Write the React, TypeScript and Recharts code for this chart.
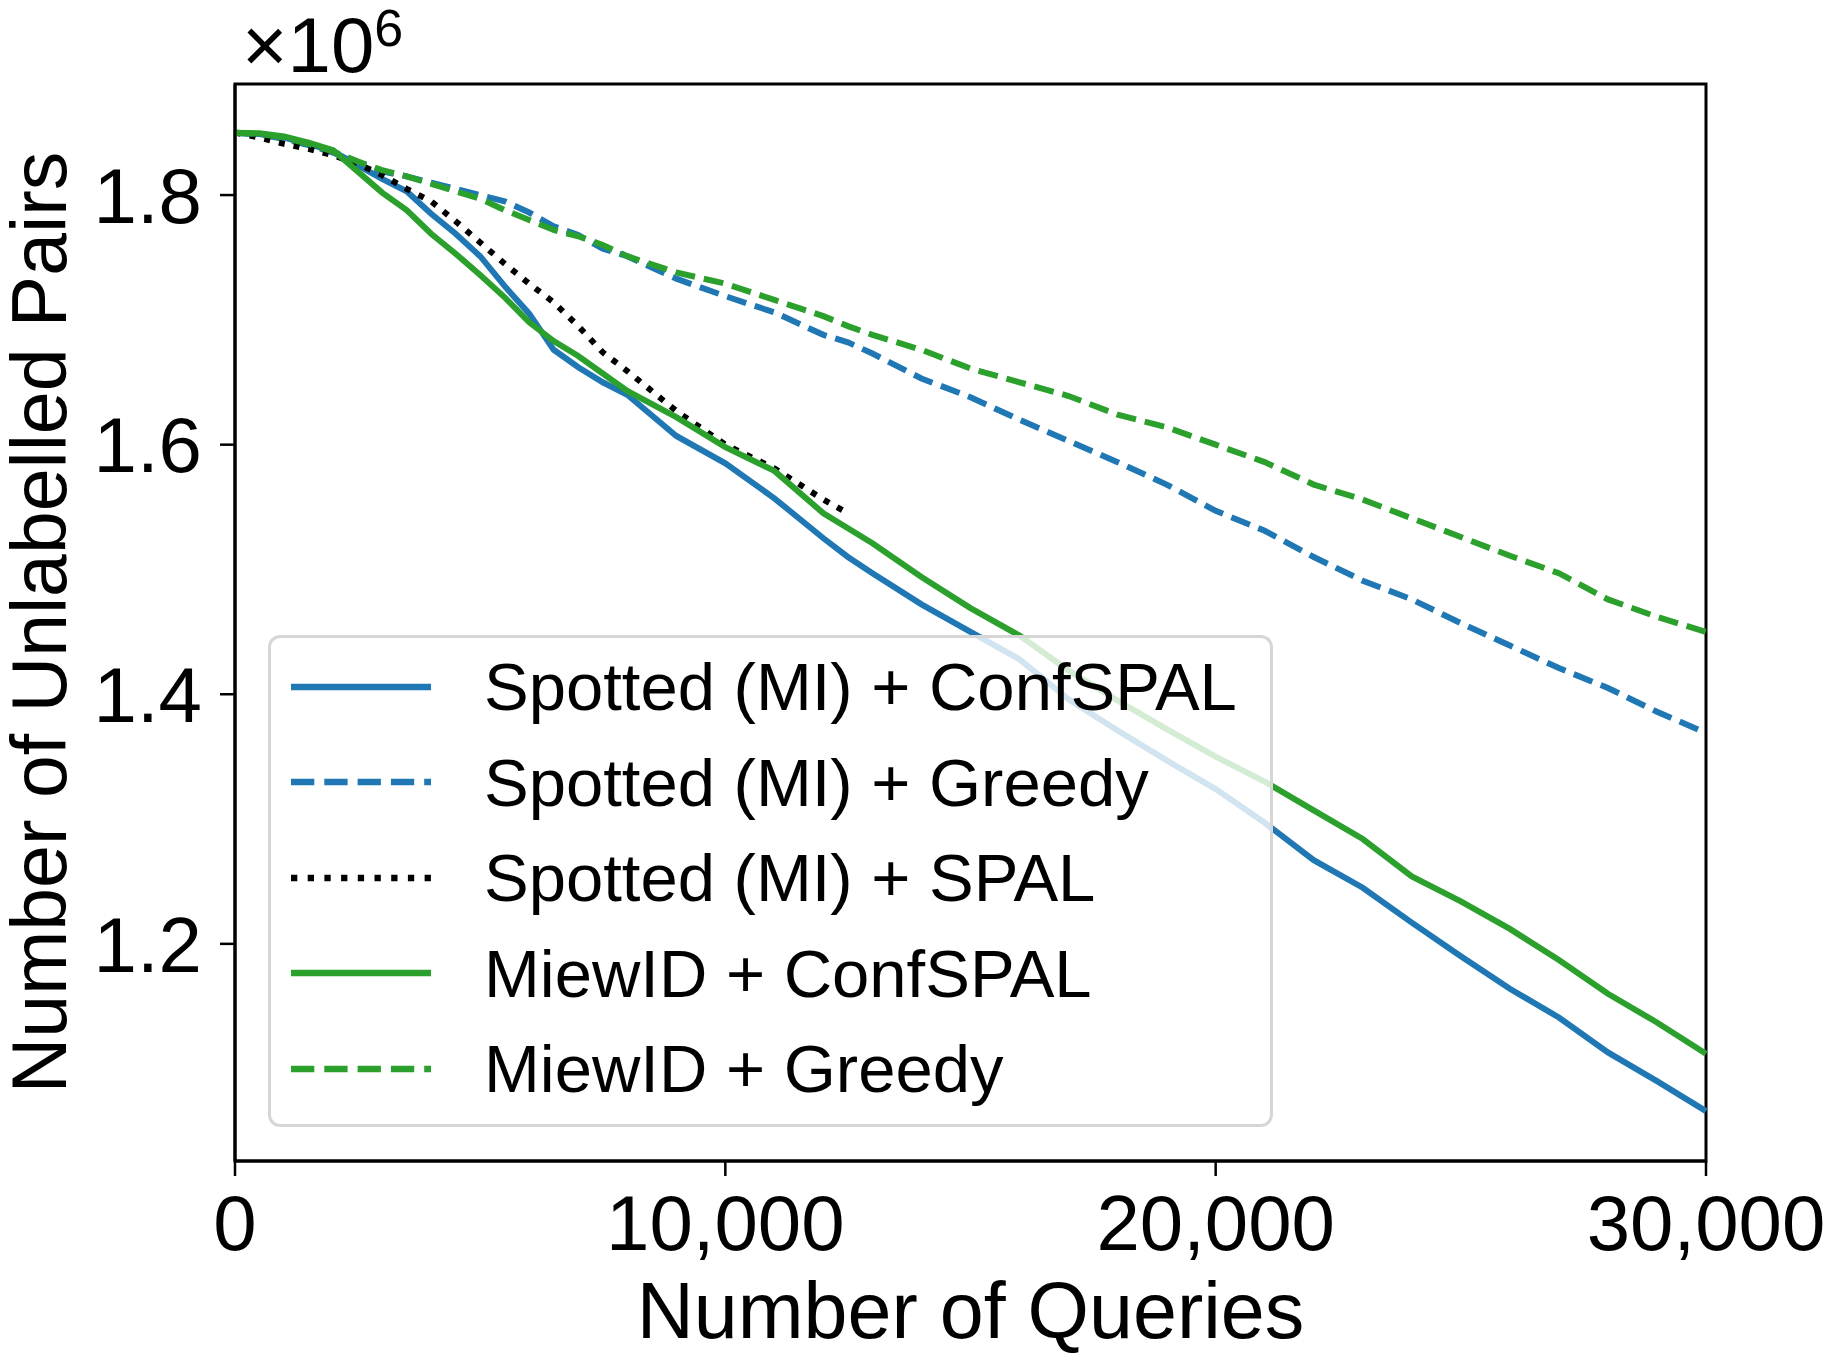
import { Label, Legend, Line, LineChart, ReferenceArea, XAxis, YAxis } from "recharts";

// query counts where each run was sampled
const queries = [
  0, 500, 1000, 1500, 2000, 2500, 3000, 3500, 4000, 4500, 5000, 5500, 6000, 6500, 7000, 7500, 8000,
  9000, 10000, 11000, 12000, 12500, 13000, 14000, 15000, 16000, 17000, 18000, 19000, 20000, 21000,
  22000, 23000, 24000, 25000, 26000, 27000, 28000, 29000, 30000,
];

// unlabelled pairs remaining, in millions
const spottedConf = [
  1.85, 1.849, 1.846, 1.841, 1.835, 1.824, 1.813, 1.803, 1.785, 1.769, 1.751, 1.727, 1.705, 1.676,
  1.662, 1.65, 1.64, 1.607, 1.585, 1.557, 1.525, 1.51, 1.497, 1.472, 1.45, 1.428, 1.396, 1.371,
  1.347, 1.324, 1.297, 1.267, 1.245, 1.217, 1.19, 1.164, 1.141, 1.113, 1.09, 1.066,
];
const spottedGreedy = [
  1.85, 1.8485, 1.845, 1.84, 1.834, 1.825, 1.819, 1.815, 1.81, 1.805, 1.8, 1.795, 1.786, 1.775,
  1.768, 1.757, 1.751, 1.733, 1.719, 1.706, 1.688, 1.682, 1.673, 1.653, 1.638, 1.62, 1.603, 1.586,
  1.568, 1.547, 1.531, 1.51, 1.491, 1.476, 1.457, 1.439, 1.421, 1.405, 1.386, 1.369,
];
const spottedSpal = [
  1.85, 1.846, 1.841, 1.837, 1.832, 1.825, 1.816, 1.805, 1.795, 1.779, 1.762, 1.745, 1.729, 1.714,
  1.695, 1.674, 1.659, 1.627, 1.6, 1.581, 1.556, 1.545, null, null, null, null, null, null, null,
  null, null, null, null, null, null, null, null, null, null, null,
];
const miewConf = [
  1.85, 1.8495, 1.847, 1.842, 1.836, 1.819, 1.802, 1.788, 1.769, 1.753, 1.736, 1.718, 1.698, 1.683,
  1.671, 1.657, 1.643, 1.622, 1.598, 1.579, 1.545, 1.533, 1.521, 1.494, 1.469, 1.447, 1.419, 1.395,
  1.372, 1.35, 1.33, 1.307, 1.284, 1.254, 1.234, 1.212, 1.187, 1.16, 1.137, 1.112,
];
const miewGreedy = [
  1.85, 1.849, 1.846, 1.841, 1.835, 1.827, 1.82, 1.815, 1.809, 1.803, 1.797, 1.788, 1.78, 1.772,
  1.767, 1.76, 1.751, 1.738, 1.729, 1.716, 1.703, 1.695, 1.688, 1.676, 1.661, 1.65, 1.639, 1.624,
  1.614, 1.6, 1.586, 1.568, 1.556, 1.541, 1.526, 1.511, 1.497, 1.476, 1.462, 1.45,
];

const xTicks = [0, 10000, 20000, 30000];
const yTicks = [1.2, 1.4, 1.6, 1.8];
const X_DOMAIN: [number, number] = [0, 30000];
const Y_DOMAIN: [number, number] = [1.026, 1.889];

const BLUE = "#1f77b4";
const GREEN = "#2ca02c";
const FONT = '"Liberation Sans", Arial, sans-serif';
const LW = 6;

const series = [
  { key: "spottedConf", name: "Spotted (MI) + ConfSPAL", color: BLUE, dash: undefined, legendDash: undefined },
  { key: "spottedGreedy", name: "Spotted (MI) + Greedy", color: BLUE, dash: "20 9", legendDash: "23.3 10" },
  { key: "spottedSpal", name: "Spotted (MI) + SPAL", color: "#000", dash: "6 9", legendDash: "6.3 10.4" },
  { key: "miewConf", name: "MiewID + ConfSPAL", color: GREEN, dash: undefined, legendDash: undefined },
  { key: "miewGreedy", name: "MiewID + Greedy", color: GREEN, dash: "20 9", legendDash: "23.3 10" },
];

const rows = queries.map((q, i) => ({
  queries: q,
  spottedConf: spottedConf[i],
  spottedGreedy: spottedGreedy[i],
  spottedSpal: spottedSpal[i],
  miewConf: miewConf[i],
  miewGreedy: miewGreedy[i],
}));

function YTitle(props: any) {
  const { x, y, height } = props.viewBox;
  const cx = x + 66;
  const cy = y + height / 2;
  return (
    <g>
      <text x={cx} y={cy} transform={`rotate(-90 ${cx} ${cy})`} textAnchor="middle" fontSize={77} fill="#000">
        Number of Unlabelled Pairs
      </text>
      <text x={x + 242} y={y - 12} fontSize={78} fill="#000">
        ×10
        <tspan fontSize={52} dy={-26}>
          6
        </tspan>
      </text>
    </g>
  );
}

function LegendBox() {
  return (
    <div
      style={{
        width: 1005,
        height: 492,
        boxSizing: "border-box",
        border: "3px solid #d6d6d6",
        borderRadius: 12,
        background: "rgba(255,255,255,0.8)",
        paddingTop: 1,
        paddingLeft: 20,
      }}
    >
      {series.map((s) => (
        <div key={s.key} style={{ height: 95.5, display: "flex", alignItems: "center" }}>
          <svg width={140} height={12} style={{ display: "block" }}>
            <line x1={0} x2={140} y1={6} y2={6} stroke={s.color} strokeWidth={6.3} strokeDasharray={s.legendDash} />
          </svg>
          <span style={{ marginLeft: 53, fontSize: 67, lineHeight: 1, whiteSpace: "nowrap", color: "#000" }}>
            {s.name}
          </span>
        </div>
      ))}
    </div>
  );
}

export default function App() {
  return (
    <div style={{ position: "absolute", left: 0, top: 0, width: 1826, height: 1354, background: "#fff", fontFamily: FONT }}>
      <LineChart width={1826} height={1354} data={rows} margin={{ top: 84, right: 120, bottom: 0, left: 0 }}>
        <XAxis
          dataKey="queries"
          type="number"
          domain={X_DOMAIN}
          ticks={xTicks}
          height={193}
          stroke="#000"
          axisLine={{ stroke: "#000", strokeWidth: 3 }}
          tickLine={{ stroke: "#000", strokeWidth: 2.5 }}
          tickSize={15}
          tickMargin={19}
          tick={{ fontSize: 78, fill: "#000" }}
          tickFormatter={(v: number) => v.toLocaleString("en-US")}
        >
          <Label value="Number of Queries" position="insideBottom" offset={16} fontSize={79} fill="#000" />
        </XAxis>
        <YAxis
          type="number"
          domain={Y_DOMAIN}
          ticks={yTicks}
          allowDataOverflow
          width={235}
          stroke="#000"
          axisLine={{ stroke: "#000", strokeWidth: 3 }}
          tickLine={{ stroke: "#000", strokeWidth: 2.5 }}
          tickSize={15}
          tickMargin={18}
          tick={{ fontSize: 78, fill: "#000" }}
          tickFormatter={(v: number) => v.toFixed(1)}
        >
          <Label content={YTitle} />
        </YAxis>
        <ReferenceArea
          x1={X_DOMAIN[0]}
          x2={X_DOMAIN[1]}
          y1={Y_DOMAIN[0]}
          y2={Y_DOMAIN[1]}
          fill="none"
          stroke="#000"
          strokeWidth={3}
        />
        {series.map((s) => (
          <Line
            key={s.key}
            dataKey={s.key}
            name={s.name}
            type="linear"
            stroke={s.color}
            strokeWidth={LW}
            strokeDasharray={s.dash}
            dot={false}
            activeDot={false}
            connectNulls={false}
            isAnimationActive={false}
          />
        ))}
        <Legend
          layout="vertical"
          align="center"
          verticalAlign="middle"
          wrapperStyle={{ left: 268, top: 635, width: 1005, height: 492 }}
          content={() => <LegendBox />}
        />
      </LineChart>
    </div>
  );
}
